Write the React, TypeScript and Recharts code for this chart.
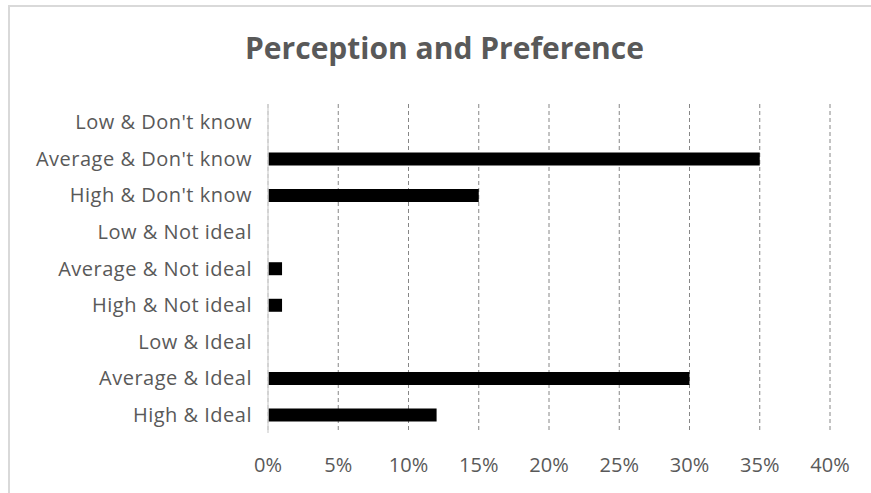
import React from 'react';
import { BarChart, Bar, XAxis, YAxis, CartesianGrid } from 'recharts';

const categories = [
  'Low & Don\'t know',
  'Average & Don\'t know',
  'High & Don\'t know',
  'Low & Not ideal',
  'Average & Not ideal',
  'High & Not ideal',
  'Low & Ideal',
  'Average & Ideal',
  'High & Ideal',
];

// share of respondents, in percent
const shares = [0, 35, 15, 0, 1, 1, 0, 30, 12];

const percentTicks = [0, 5, 10, 15, 20, 25, 30, 35, 40];

const data = categories.map((name, i) => ({ name, share: shares[i] }));

const FONT = '"Open Sans", Lato, sans-serif';
const TEXT = '#595959';

export default function App() {
  return (
    <div style={{ position: 'absolute', left: 0, top: 0, width: 871, height: 493, background: '#fff', overflow: 'hidden' }}>
      {/* chart frame */}
      <div
        style={{
          position: 'absolute',
          left: 8,
          top: 5,
          width: 880,
          height: 500,
          border: '2px solid #d9d9d9',
          boxSizing: 'border-box',
        }}
      />
      <div
        style={{
          position: 'absolute',
          left: 0,
          top: 28,
          width: 889,
          textAlign: 'center',
          fontFamily: FONT,
          fontWeight: 700,
          fontSize: 30,
          color: TEXT,
          lineHeight: '40px',
        }}
      >
        Perception and Preference
      </div>
      <div style={{ position: 'absolute', left: 0, top: 0 }}>
        <BarChart
          width={871}
          height={493}
          data={data}
          layout="vertical"
          margin={{ top: 104, right: 41, bottom: 30, left: 0 }}
        >
          <CartesianGrid horizontal={false} stroke="#868686" strokeDasharray="4 3" />
          <XAxis
            type="number"
            domain={[0, 40]}
            ticks={percentTicks}
            tickFormatter={(v: number) => `${v}%`}
            axisLine={false}
            tickLine={false}
            tickSize={0}
            tickMargin={25}
            height={30}
            tick={{ fill: TEXT, fontSize: 20, fontFamily: FONT }}
          />
          <YAxis
            type="category"
            dataKey="name"
            width={268}
            axisLine={{ stroke: '#d9d9d9', strokeWidth: 1.5 }}
            tickLine={false}
            tickSize={0}
            tickMargin={16}
            interval={0}
            tick={{ fill: TEXT, fontSize: 20, fontFamily: FONT, letterSpacing: 0.5 }}
          />
          <Bar dataKey="share" fill="#000" barSize={13} isAnimationActive={false} />
        </BarChart>
      </div>
    </div>
  );
}
